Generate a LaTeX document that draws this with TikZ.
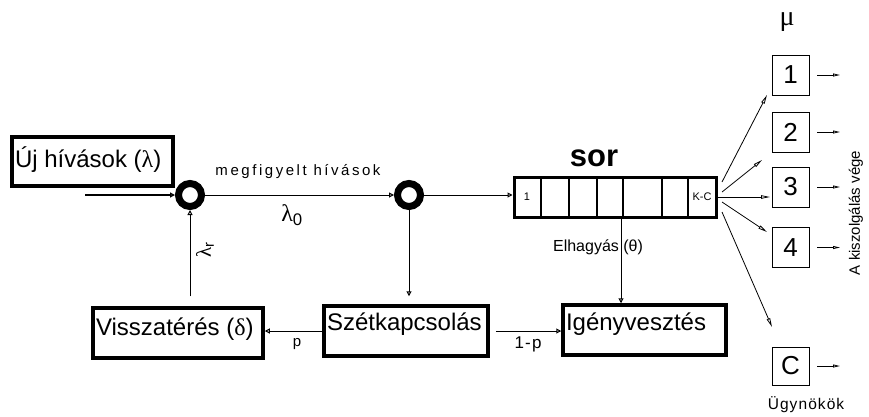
\documentclass[tikz,border=0pt]{standalone}
\usepackage{fontspec}
\setmainfont{Liberation Sans}
\newfontfamily\spaced[LetterSpace=17]{Liberation Sans}
\newfontfamily\spacedb[LetterSpace=7]{Liberation Sans}
\newfontfamily\grk{Liberation Serif}
\usetikzlibrary{arrows.meta,calc}
\newcommand{\boxtext}[2]{\makebox[#1][l]{#2}}
\begin{document}
\begin{tikzpicture}[x=1pt,y=-1pt,
  bigbox/.style={draw,line width=3.5pt,inner xsep=3pt,inner ysep=0pt,
    font=\fontsize{24}{24}\selectfont},
  ring/.style={circle,draw,line width=7pt,minimum size=23pt,inner sep=0pt,outer sep=3.5pt},
  agent/.style={draw,line width=0.8pt,minimum width=37pt,minimum height=40pt,inner sep=0pt,
    font=\fontsize{26}{26}\selectfont},
  arr/.style={-{Triangle[open,length=5pt,width=5pt]},line width=1pt},
  fanarr/.style={-{Triangle[open,length=9pt,width=3.5pt]},line width=0.8pt},
  outarr/.style={-{Triangle[open,length=7pt,width=3pt]},line width=0.8pt},
  lbl/.style={inner sep=0pt},
]
\useasboundingbox (0,0) rectangle (869,416);
\fill[white] (0,0) rectangle (869,416);

% big boxes
\node[bigbox,text height=30pt,text depth=19pt] (uj) at (92.5,161.5) {\boxtext{155pt}{Új hívások ({\grk λ})}};
\node[bigbox,text height=27pt,text depth=23pt] (vi) at (178,333) {\boxtext{164pt}{Visszatérés ({\grk δ})}};
\node[bigbox,text height=24pt,text depth=26pt] (sz) at (406,331) {\boxtext{158pt}{Szétkapcsolás}};
\node[bigbox,text height=25pt,text depth=25pt] (ig) at (644.5,330) {\boxtext{157pt}{Igényvesztés}};

% rings
\node[ring] (c1) at (190,195) {};
\node[ring] (c2) at (409,195) {};

% queue
\node[draw,line width=3pt,minimum width=202pt,minimum height=40pt,inner sep=0pt] (q) at (615,197) {};
\foreach \x in {541,569,597,623,662,688} \draw[line width=2pt] (\x,177) -- (\x,217);
\node[lbl,font=\fontsize{11}{11}\selectfont] (qa) at (527,197) {1};
\node[lbl,font=\fontsize{11}{11}\selectfont] (qk) at (702,197) {K-C};
\node[lbl,font=\fontsize{31}{31}\selectfont\bfseries] (sor) at (594,158) {sor};

% labels
\node[lbl,font=\fontsize{15}{15}\selectfont\spaced] (mh) at (298,172) {megfigyelt hívások};
\node[lbl,font=\fontsize{24}{24}\selectfont] (l0) at (292,215) {{\grk λ}\textsubscript{0}};
\node[lbl,rotate=90,font=\fontsize{21}{21}\selectfont] (lr) at (205,250) {{\grk λ}\textsubscript{r}};
\node[lbl,font=\fontsize{16}{16}\selectfont] (el) at (598,247) {Elhagyás (θ)};
\node[lbl,font=\fontsize{15}{15}\selectfont] (p) at (297,344) {p};
\node[lbl,font=\fontsize{17}{17}\selectfont\spacedb] (omp) at (528,344) {1-p};

% connectors
\coordinate (in) at (85,195);
\draw[arr,line width=1.6pt] (in) -- (c1.west);
\draw[arr] (c1.east) -- (c2.west);
\draw[arr] (c2.east) -- (c2.east -| q.west);
\draw[arr] (c2.south) -- ($(c2.south |- sz.north)+(0,-8)$);
\draw[arr] ($(q.south)+(6,0)$) -- ($(q.south |- ig.north)+(6,0)$);
\draw[arr] (sz.west) -- (sz.west -| vi.east);
\draw[arr] ($(sz.east)+(6,0)$) -- (sz.east -| ig.west);
\draw[arr,shorten <=10pt] (c1.south |- vi.north) -- (c1.south);

% agents
\node[agent] (a1) at (790.5,75) {1};
\node[agent] (a2) at (790.5,132) {2};
\node[agent] (a3) at (790.5,187) {3};
\node[agent] (a4) at (790.5,247.5) {4};
\node[agent,minimum height=38pt] (a5) at (790.5,366) {C};

\foreach \i/\y in {1/75,2/132,3/187,4/247.5,5/366}{
  \coordinate (o\i) at (840,\y);
  \draw[outarr] ($(a\i.east)+(8,0)$) -- (o\i);
}

% fan
\coordinate (s1) at (722,182); \coordinate (e1) at (767,95);
\coordinate (s2) at (722,192); \coordinate (e2) at (762,160);
\coordinate (s3) at (717,197); \coordinate (e3) at (770,197);
\coordinate (s4) at (722,202); \coordinate (e4) at (767,232);
\coordinate (s5) at (722,212); \coordinate (e5) at (772,327);
\foreach \i in {1,...,5} \draw[fanarr] (s\i) -- (e\i);

\node[lbl,font=\fontsize{28}{28}\selectfont\grk] (mu) at (787,22) {μ};
\node[lbl,rotate=90,font=\fontsize{15}{15}\selectfont] (ak) at (856,213) {A kiszolgálás vége};
\node[lbl,font=\fontsize{15.5}{15.5}\selectfont\spacedb] (ug) at (806,405) {Ügynökök};
\end{tikzpicture}
\end{document}
